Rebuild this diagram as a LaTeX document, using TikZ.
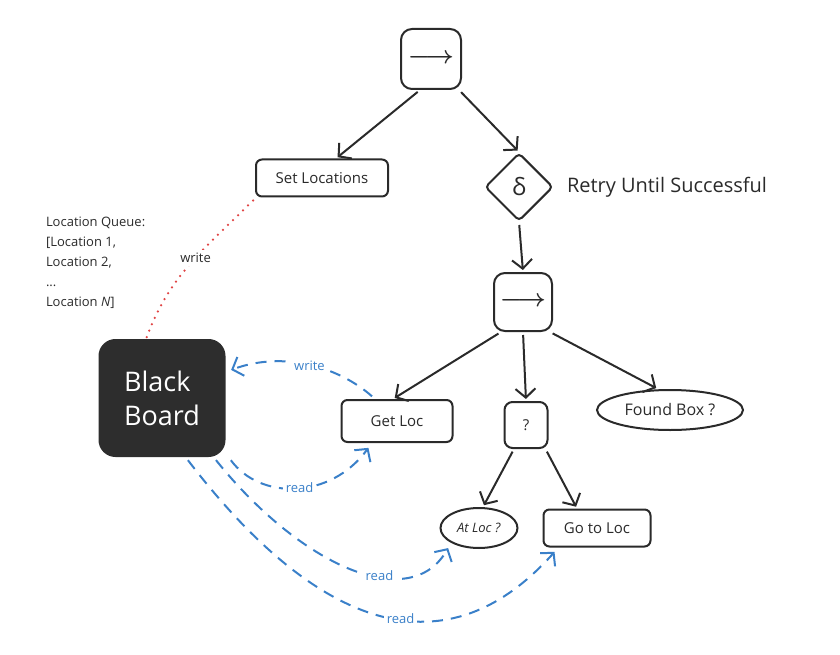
\documentclass[tikz,border=0pt]{standalone}
\usepackage{fontspec}
\setmainfont{Open Sans}
\usetikzlibrary{arrows.meta,positioning,shapes.geometric}
\definecolor{ink}{HTML}{2A2A2A}
\definecolor{boardgray}{HTML}{2D2D2D}
\definecolor{flowblue}{HTML}{3A80C9}
\definecolor{flowred}{HTML}{E04444}

\begin{document}
\begin{tikzpicture}[x=1pt, y=-1pt, line width=2pt, draw=ink, text=ink]
    \tikzstyle{block} = [rectangle, draw, fill=white, rounded corners=6pt, minimum height=37pt, font=\fontsize{15}{17}\selectfont]
    \tikzstyle{ctrl} = [rectangle, draw, rounded corners=11pt, minimum size=60pt, inner sep=0pt, font=\fontsize{26}{26}\selectfont\boldmath]
    \tikzstyle{cond} = [ellipse, draw, inner sep=0pt, minimum height=40pt, font=\fontsize{15}{17}\selectfont]
    \tikzstyle{arrow} = [->, >={Straight Barb[length=9pt,width=20pt]}, shorten <=3pt, shorten >=2pt]
    \tikzstyle{dataflow} = [->, >={Straight Barb[length=9pt,width=20pt]}, draw=flowblue, dash pattern=on 11pt off 8pt, shorten <=4pt, shorten >=6pt]
    \tikzstyle{flowlabel} = [fill=white, text=flowblue, inner sep=3pt, font=\fontsize{13}{15}\selectfont]

    \useasboundingbox (0,0) rectangle (840,655);

    % tree
    \node [ctrl] (root) at (431,59) {$\longrightarrow$};
    \node [block, minimum width=132pt] (setloc) at (322,178) {Set Locations};
    \node [diamond, draw, minimum width=68pt, minimum height=68pt, inner sep=0pt, rounded corners=4pt, font=\fontsize{24}{24}\selectfont] (retry) at (519,187) {δ};
    \node [right=12pt of retry.east, anchor=west, inner sep=0pt, font=\fontsize{20}{22}\selectfont] (retrylabel) {Retry Until Successful};
    \node [ctrl, minimum size=58pt] (seq) at (523,302) {$\longrightarrow$};
    \node [block, minimum width=111pt, minimum height=42pt] (getloc) at (397,421) {Get Loc};
    \node [block, minimum width=43pt, minimum height=46pt, rounded corners=8pt] (fallback) at (526,425) {?};
    \node [cond, minimum width=146pt, font=\fontsize{16}{18}\selectfont] (foundbox) at (670,410) {Found Box ?};
    \node [cond, minimum width=77pt, font=\fontsize{13}{15}\selectfont] (atloc) at (479,528) {\textit{At Loc ?}};
    \node [block, minimum width=107pt] (gotoloc) at (597,528) {Go to Loc};

    % blackboard
    \node [rectangle, fill=boardgray, draw=boardgray, rounded corners=16pt, minimum width=125pt, minimum height=116pt, text=white, align=left, font=\fontsize{27}{34}\selectfont] (board) at (162,398) {Black\\Board};
    \node [anchor=north west, align=left, inner sep=0pt, font=\fontsize{13}{20}\selectfont] (queue) at (45,216) {Location Queue:\\{[}Location 1,\\Location 2,\\...\\Location \textit{N}]};

    \draw [arrow] ([xshift=-11pt]root.south) -- ([xshift=14pt]setloc.north);
    \draw [arrow] ([xshift=-3pt]root.south east) -- (retry.north);
    \draw [arrow] (retry.south) -- (seq.north);
    \draw [arrow] ([xshift=8pt]seq.south west) -- ([xshift=-4pt]getloc.north);
    \draw [arrow] (seq.south) -- (fallback.north);
    \draw [arrow] ([xshift=-3pt]seq.south east) -- ([xshift=-12pt]foundbox.north);
    \draw [arrow] ([xshift=-12pt]fallback.south) -- ([xshift=4pt]atloc.north);
    \draw [arrow] ([xshift=-3pt]fallback.south east) -- ([xshift=-20pt]gotoloc.north);

    % blackboard access
    \draw [flowred, line width=2.5pt, line cap=round, dash pattern=on 0pt off 7pt] ([xshift=-2pt,yshift=-3pt]setloc.south west) to[out=-135, in=70] node[fill=white, text=ink, pos=0.45, font=\fontsize{13}{15}\selectfont] {write} ([xshift=-16pt]board.north);
    \draw [dataflow] ([xshift=-22pt]getloc.north) .. controls (340,368) and (285,350) .. node[flowlabel, pos=0.5] {write} ([yshift=26pt]board.east);
    \draw [dataflow] ([xshift=3pt]board.south east) .. controls (260,500) and (330,500) .. node[flowlabel, pos=0.52] {read} ([xshift=-25pt]getloc.south);
    \draw [dataflow] ([xshift=-12pt]board.south east) .. controls (300,565) and (410,615) .. node[flowlabel, pos=0.62] {read} (atloc.south west);
    \draw [dataflow] ([xshift=-40pt]board.south east) .. controls (310,620) and (440,680) .. node[flowlabel, pos=0.57] {read} ([xshift=16pt]gotoloc.south west);

\end{tikzpicture}
\end{document}
